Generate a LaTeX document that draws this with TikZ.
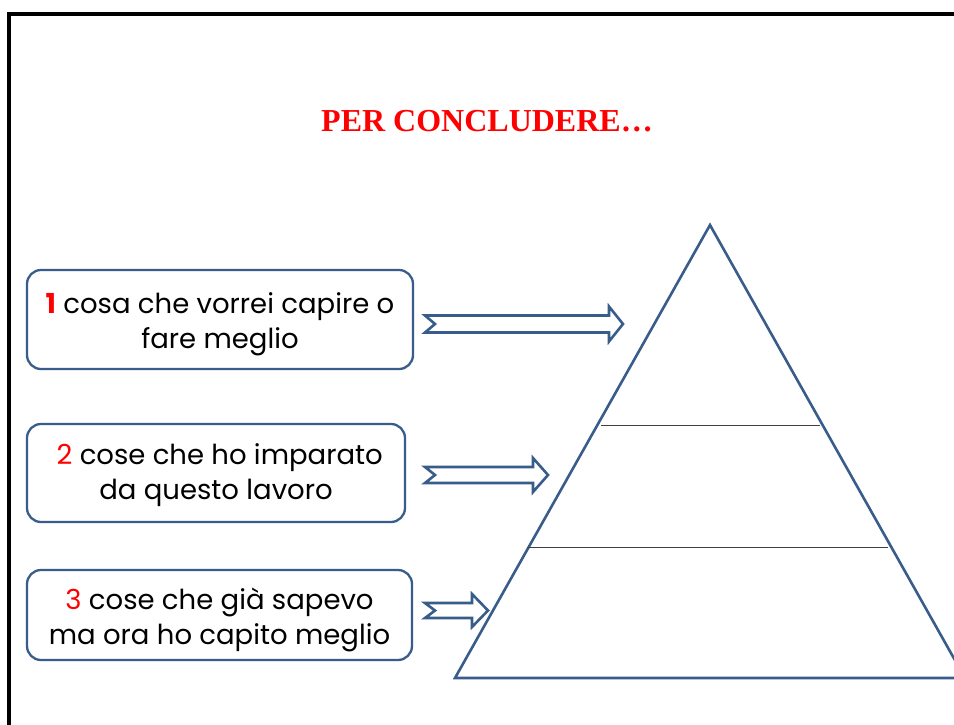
\documentclass[tikz,border=0pt]{standalone}
\usepackage{fontspec}
\setmainfont{Liberation Serif}
\newfontfamily\comicfont{Poppins}
\definecolor{bord}{HTML}{385D8A}
\definecolor{tred}{HTML}{FF0000}
\newcommand\blockarr[7]{% name, tail x, head base x, tip x, center y, shaft half, head half
  \draw[blockarrow] (#2,#5-#6) -- (#3,#5-#6) -- (#3,#5-#7) -- (#4,#5) -- (#3,#5+#7) -- (#3,#5+#6) -- (#2,#5+#6) -- (#2+10,#5) -- cycle;
  \coordinate (#1) at (#4,#5);}
\newcommand\boxtext[2]{\raisebox{-#1}[\height][\depth]{\begin{tabular}{@{}c@{}}#2\end{tabular}}}
\tikzset{
  box/.style={draw=bord, line width=2.3pt, rounded corners=14pt, fill=white, align=center,
    font=\comicfont\fontsize{27.5}{35}\selectfont, inner sep=0pt},
  blockarrow/.style={draw=bord, line width=2.6pt, fill=white, line join=miter},
  tri/.style={draw=bord, line width=2.6pt, line join=miter},
  level/.style={draw=black!75, line width=0.9pt},
  frame/.style={draw=black, line width=3.5pt}
}
\begin{document}
\begin{tikzpicture}[x=1pt,y=-1pt]
\useasboundingbox (0,0) rectangle (954,724);
\clip (0,0) rectangle (954,724);
\fill[white] (0,0) rectangle (954,724);
\draw[frame] (9,730) -- (9,14) -- (960,14);
\node[text=tred, font=\fontsize{32}{40}\selectfont\bfseries] (title) at (487,121) {PER CONCLUDERE…};
% pyramid
\coordinate (apex) at (710,225);
\coordinate (bl) at (455,678);
\coordinate (br) at (965,678);
\draw[tri] (bl) -- (apex) -- (br) -- cycle;
\coordinate (l1a) at (601,425); \coordinate (l1b) at (820,425);
\coordinate (l2a) at (527,547); \coordinate (l2b) at (888,547);
\draw[level] (l1a) -- (l1b);
\draw[level] (l2a) -- (l2b);
% boxes
\node[box, minimum width=386pt, minimum height=99pt] (b1) at (220,319.5)
  {\boxtext{4pt}{{\color{tred}\bfseries 1} cosa che vorrei capire o\\fare meglio}};
\node[box, minimum width=378pt, minimum height=98pt] (b2) at (216,473)
  {\boxtext{2pt}{\ {\color{tred}2} cose che ho imparato\\da questo lavoro}};
\node[box, minimum width=385pt, minimum height=90pt] (b3) at (219.5,615)
  {\boxtext{5pt}{{\color{tred}3} cose che già sapevo\\ma ora ho capito meglio}};
% arrows
\blockarr{a1}{425}{609}{623}{324}{8.5}{17.5}
\blockarr{a2}{425}{533}{548}{475}{8}{17}
\blockarr{a3}{425}{472}{488}{610.5}{7.5}{16.5}
\end{tikzpicture}
\end{document}
